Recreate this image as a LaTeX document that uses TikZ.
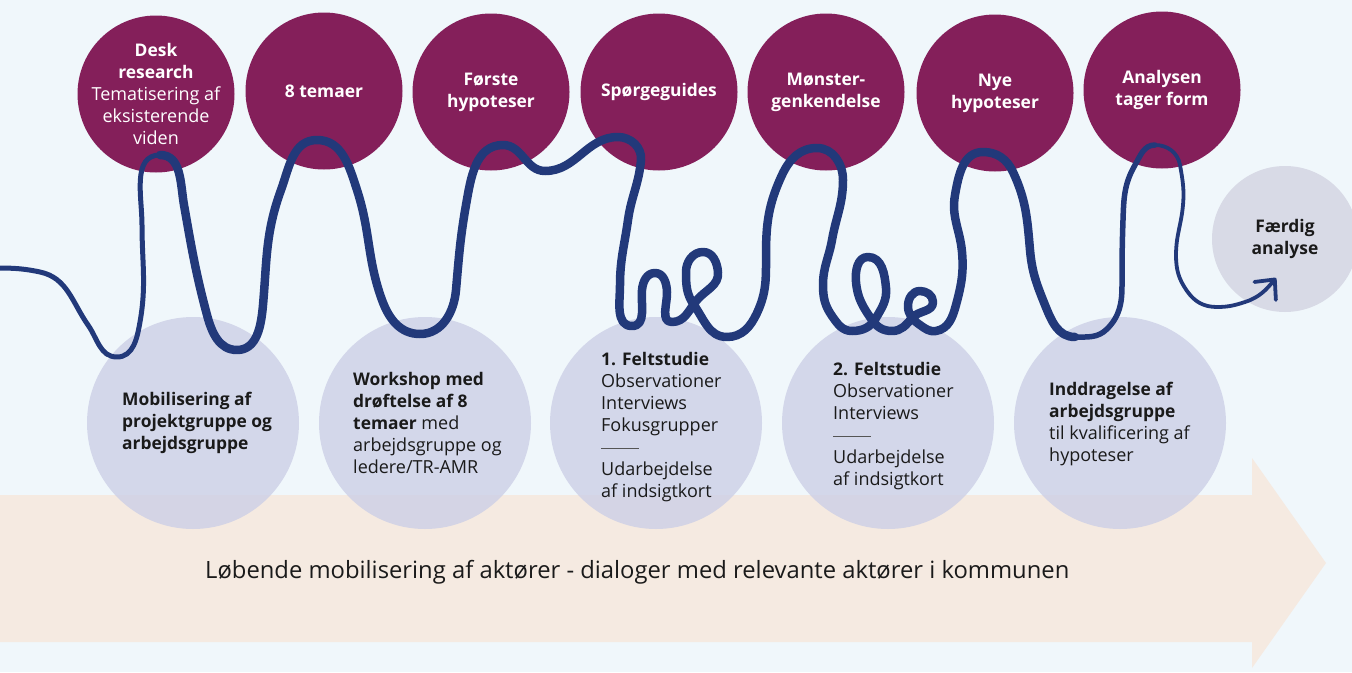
\documentclass[tikz,border=0pt]{standalone}
\usepackage{fontspec}
\setmainfont{Open Sans}
\usetikzlibrary{arrows.meta}
\definecolor{bg}{HTML}{F0F7FB}
\definecolor{band}{HTML}{F5EAE1}
\definecolor{plum}{HTML}{841F5A}
\definecolor{lav}{HTML}{CCCFE6}
\definecolor{fin}{HTML}{D8DAE6}
\definecolor{ink}{HTML}{22397A}
\definecolor{txt}{HTML}{1A1A1A}
\definecolor{rulec}{HTML}{555555}
\newcommand{\sep}{\textcolor{rulec}{\rule[5pt]{38pt}{0.8pt}}}
\newcommand{\rg}[1]{{\mdseries\fontsize{18}{22}\selectfont #1}}
\newcommand{\bd}[1]{\textbf{\fontsize{17.4}{22}\selectfont #1}}
\begin{document}
\begin{tikzpicture}[x=1pt,y=1pt,
  topc/.style={circle,fill=plum,minimum size=157pt,inner sep=0pt},
  botc/.style={circle,fill=lav,fill opacity=0.8,minimum size=212pt,inner sep=0pt},
  fincirc/.style={circle,fill=fin,minimum size=146pt,inner sep=0pt},
  toptext/.style={text=white,align=center,inner sep=0pt,font=\fontsize{17.4}{22}\selectfont\bfseries},
  bottext/.style={text=txt,align=left,anchor=north west,inner sep=0pt,font=\fontsize{18}{22}\selectfont},
  wave/.style={draw=ink,line cap=round,line join=round}]
\useasboundingbox (0,0) rectangle (1352,-672);
\fill[bg] (0,0) rectangle (1352,-672);
% running band arrow
\fill[band] (0,-495) -- (1252,-495) -- (1252,-458) -- (1326,-563) -- (1252,-668) -- (1252,-642) -- (0,-642) -- cycle;
\node[anchor=base west,inner sep=0pt,text=txt,font=\fontsize{23.8}{28}\selectfont] (bandtext) at (205,-578)
  {Løbende mobilisering af aktører - dialoger med relevante aktører i kommunen};
% bottom circles
\node[botc] (b1) at (193,-423) {};
\node[botc] (b2) at (425,-423) {};
\node[botc] (b3) at (656,-423) {};
\node[botc] (b4) at (888,-423) {};
\node[botc] (b5) at (1120,-423) {};
\node[fincirc] (fin) at (1285,-239) {};
% top circles
\node[topc] (t1) at (156,-94) {};
\node[topc] (t2) at (324,-91) {};
\node[topc] (t3) at (491,-92) {};
\node[topc] (t4) at (659,-92) {};
\node[topc] (t5) at (826,-92) {};
\node[topc] (t6) at (995,-93) {};
\node[topc] (t7) at (1162,-90) {};
% top texts
\node[toptext] (t1t) at (t1.center) {Desk\\research\\\rg{Tematisering af}\\\rg{eksisterende}\\\rg{viden}};
\node[toptext] (t2t) at (t2.center) {8 temaer};
\node[toptext] (t3t) at (t3.center) {Første\\hypoteser};
\node[toptext] (t4t) at (t4.center) {Spørgeguides};
\node[toptext] (t5t) at (t5.center) {Mønster-\\genkendelse};
\node[toptext] (t6t) at (t6.center) {Nye\\hypoteser};
\node[toptext] (t7t) at (t7.center) {Analysen\\tager form};
\node[toptext,text=txt] (fint) at (fin.center) {Færdig\\analyse};
% bottom texts
\node[bottext] (b1t) at (122,-392) {\bd{Mobilisering af}\\\bd{projektgruppe og}\\\bd{arbejdsgruppe}};
\node[bottext] (b2t) at (353,-372) {\bd{Workshop med}\\\bd{drøftelse af 8}\\\bd{temaer} med\\arbejdsgruppe og\\ledere/TR-AMR};
\node[bottext] (b3t) at (601,-352) {\bd{1. Feltstudie}\\Observationer\\Interviews\\Fokusgrupper\\\sep\\Udarbejdelse\\af indsigtkort};
\node[bottext] (b4t) at (833,-362) {\bd{2. Feltstudie}\\Observationer\\Interviews\\\sep\\Udarbejdelse\\af indsigtkort};
\node[bottext] (b5t) at (1049,-382) {\bd{Inddragelse af}\\\bd{arbejdsgruppe}\\til kvalificering af\\hypoteser};
% the winding line
\draw[wave,line width=5pt] (-5,-268) to[out=0,in=168] (40,-272) to[out=-12,in=125] (88,-325)
  to[out=-55,in=180] (117,-357) to[out=0,in=260] (140,-322) to[out=80,in=270] (142,-225)
  to[out=90,in=180] (160,-155);
\draw[wave,line width=8.5pt] (160,-155)
  to[out=0,in=100] (184,-205)
  to[out=-80,in=105] (207,-315)
  to[out=-75,in=180] (237,-350)
  to[out=0,in=265] (263,-305)
  to[out=85,in=250] (281,-190)
  to[out=70,in=180] (317,-140)
  to[out=0,in=108] (357,-190)
  to[out=-72,in=110] (382,-300)
  to[out=-70,in=180] (420,-334)
  to[out=0,in=265] (456,-290)
  to[out=85,in=260] (466,-205)
  to[out=80,in=180] (503,-145)
  to[out=0,in=180] (545,-171)
  to[out=0,in=180] (618,-137)
  to[out=0,in=85] (641,-160)
  to[out=-95,in=82] (628,-220)
  to[out=-98,in=90] (620,-285)
  to[out=-90,in=180] (632,-326)
  to[out=0,in=265] (642,-290)
  to[out=85,in=180] (655,-273)
  to[out=0,in=92] (667,-292)
  to[out=-88,in=180] (672,-322)
  to[out=0,in=230] (697,-300)
  to[out=50,in=275] (718,-272)
  to[out=95,in=0] (703,-252)
  to[out=180,in=90] (686,-272)
  to[out=-90,in=125] (694,-305)
  to[out=-55,in=180] (727,-337)
  to[out=0,in=245] (757,-313)
  to[out=65,in=270] (766,-255)
  to[out=90,in=245] (782,-175)
  to[out=65,in=180] (817,-148)
  to[out=0,in=90] (843,-180)
  to[out=-90,in=80] (832,-240)
  to[out=-100,in=90] (823,-285)
  to[out=-90,in=125] (832,-316)
  to[out=-55,in=180] (852,-331)
  to[out=0,in=240] (876,-318)
  to[out=60,in=275] (886,-288)
  to[out=95,in=0] (868,-257)
  to[out=180,in=95] (856,-282)
  to[out=-85,in=125] (872,-320)
  to[out=-55,in=180] (892,-331)
  to[out=0,in=230] (912,-318)
  to[out=50,in=270] (933,-302)
  to[out=90,in=0] (920,-291)
  to[out=180,in=90] (908,-306)
  to[out=-90,in=145] (920,-325)
  to[out=-35,in=190] (936,-331)
  to[out=10,in=255] (956,-305)
  to[out=75,in=275] (962,-252)
  to[out=95,in=260] (955,-195)
  to[out=80,in=180] (983,-152)
  to[out=0,in=115] (1013,-172)
  to[out=-65,in=95] (1030,-250)
  to[out=-85,in=112] (1045,-305)
  to[out=-68,in=180] (1075,-337);
\draw[wave,line width=5.5pt] (1075,-337)
  to[out=0,in=225] (1107,-329)
  to[out=45,in=270] (1122,-285)
  to[out=90,in=268] (1123,-220)
  to[out=88,in=240] (1135,-165)
  to[out=60,in=180] (1155,-145);
\coordinate (tipend) at (1276,-278);
\draw[wave,line width=3.8pt,-{Straight Barb[length=15pt,width=28pt,round]}] (1155,-145)
  to[out=0,in=100] (1180,-165)
  to[out=-80,in=85] (1183,-205)
  to[out=-95,in=90] (1176,-255)
  to[out=-90,in=125] (1187,-291)
  to[out=-55,in=180] (1217,-307)
  to[out=0,in=198] (1245,-302)
  to[out=18,in=230] (tipend);
\end{tikzpicture}
\end{document}
